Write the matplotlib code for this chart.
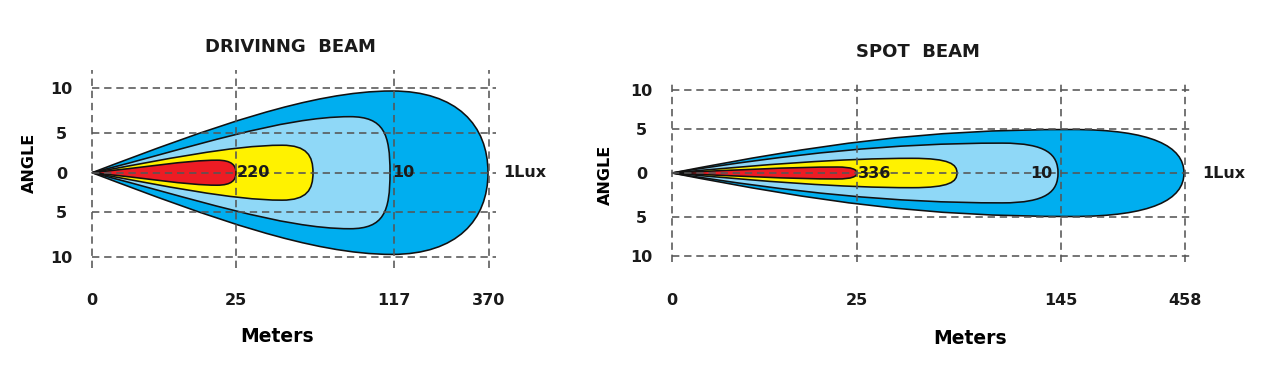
import matplotlib
matplotlib.use("Agg")
import matplotlib.pyplot as plt
from matplotlib.path import Path
from matplotlib.patches import PathPatch

# ---------------- data ----------------
titles = ["DRIVINNG  BEAM", "SPOT  BEAM"]
x_label = "Meters"
y_label = "ANGLE"
y_tick_labels = ["10", "5", "0", "5", "10"]

# driving beam
drive_x_ticks = ["0", "25", "117", "370"]
drive_x_tick_pos = [0, 143.5, 301.5, 397]
drive_y_tick_pos = [10, 4.65, 0, -4.65, -10]
drive_lux_labels = ["1Lux", "10", "220", ""]
drive_reach = [396, 298, 221, 144]
drive_peak_x = [300, 258, 190, 125]
drive_half_angle = [9.67, 6.63, 3.25, 1.48]
drive_c1 = [(120, 5.4), (100, 3.0), (70, 1.5), (50, 0.6)]
drive_c2_x = [220, 190, 140, 95]
drive_tail = [(365, 5.6), (292, 4.6), (215, 2.0), (140, 0.85)]

# spot beam
spot_x_ticks = ["0", "25", "145", "458"]
spot_x_tick_pos = [0, 184.5, 389, 513]
spot_y_tick_pos = [10, 5.25, 0, -5.25, -10]
spot_lux_labels = ["1Lux", "10", "336", ""]
spot_reach = [512, 386, 285, 185]
spot_peak_x = [400, 330, 240, 165]
spot_half_angle = [5.24, 3.6, 1.77, 0.72]
spot_c1 = [(150, 3.5), (120, 2.3), (90, 1.0), (60, 0.35)]
spot_c2_x = [250, 220, 170, 120]
spot_tail = [(480, 3.2), (375, 2.2), (278, 1.05), (180, 0.42)]

zone_colors = ["#00AEEF", "#8FD8F7", "#FFF200", "#ED1C24"]

# ---------------- figure ----------------
W, H = 1263, 378
fig = plt.figure(figsize=(W / 100, H / 100), dpi=100)
FONT = "DejaVu Sans"


def lobe_path(xe, xm, ym, c1, c2x, tail):
    verts = [(0, 0), c1, (c2x, ym), (xm, ym),
             (tail[0], ym), (xe, tail[1]), (xe, 0),
             (xe, -tail[1]), (tail[0], -ym), (xm, -ym),
             (c2x, -ym), (c1[0], -c1[1]), (0, 0), (0, 0)]
    codes = [Path.MOVETO] + [Path.CURVE4] * 12 + [Path.CLOSEPOLY]
    return Path(verts, codes)


def panel(left_px, right_px, origin_px, zero_y_px, px_per_deg,
          xticks, xtick_pos, ytick_pos, reach, peak_x, half_angle, c1, c2x, tail,
          lux_labels, label_specs, vgrid_px, hgrid_right):
    top_px, bot_px = 68, 270
    ax = fig.add_axes([left_px / W, 1 - bot_px / H,
                       (right_px - left_px) / W, (bot_px - top_px) / H])
    ax.set_xlim(left_px - origin_px, right_px - origin_px)
    ax.set_ylim(-(bot_px - zero_y_px) / px_per_deg, (zero_y_px - top_px) / px_per_deg)
    for s in ax.spines.values():
        s.set_visible(False)

    for i in range(len(reach)):
        p = lobe_path(reach[i], peak_x[i], half_angle[i], c1[i], c2x[i], tail[i])
        ax.add_patch(PathPatch(p, facecolor=zone_colors[i], edgecolor="#111111",
                               lw=1.15, zorder=2 + i))

    gcol = "#555555"
    ls = (0, (4.6, 3.0))
    y_top = (zero_y_px - vgrid_px[0]) / px_per_deg
    y_bot = -(vgrid_px[1] - zero_y_px) / px_per_deg
    for xp in xtick_pos:
        ax.plot([xp, xp], [y_bot, y_top], color=gcol, lw=1.15, ls=ls, zorder=10)
    for yp in ytick_pos:
        ax.plot([0, hgrid_right], [yp, yp], color=gcol, lw=1.15, ls=ls, zorder=10)

    ax.set_xticks(xtick_pos, xticks)
    ax.set_yticks(ytick_pos, y_tick_labels)
    ax.tick_params(axis="x", length=0, pad=16.5, labelsize=11.5)
    ax.tick_params(axis="y", length=0, pad=16, labelsize=11.5)
    for t in ax.get_xticklabels() + ax.get_yticklabels():
        t.set_fontweight("bold")
        t.set_fontfamily(FONT)
        t.set_color("#1a1a1a")
    for t in ax.get_yticklabels():
        t.set_horizontalalignment("center")

    for txt, (xp, ha) in zip(lux_labels, label_specs):
        if txt:
            ax.text(xp, 0, txt, ha=ha, va="center", fontsize=11.5, fontweight="bold",
                    family=FONT, color="#1a1a1a", zorder=12)
    return ax


panel(84, 500, 92, 172.7, 8.45,
      drive_x_ticks, drive_x_tick_pos, drive_y_tick_pos,
      drive_reach, drive_peak_x, drive_half_angle, drive_c1, drive_c2_x, drive_tail,
      drive_lux_labels, [(411, "left"), (300, "left"), (145, "left"), (0, "left")],
      (70, 268), 404)

panel(664, 1200, 672, 173, 8.3,
      spot_x_ticks, spot_x_tick_pos, spot_y_tick_pos,
      spot_reach, spot_peak_x, spot_half_angle, spot_c1, spot_c2_x, spot_tail,
      spot_lux_labels, [(530, "left"), (380, "right"), (186, "left"), (0, "left")],
      (82.7, 261.7), 521)

# titles and axis labels
fig.text(290 / W, 1 - 47 / H, titles[0], ha="center", va="center",
         fontsize=13, fontweight="bold", family=FONT, color="#1a1a1a")
fig.text(918 / W, 1 - 52 / H, titles[1], ha="center", va="center",
         fontsize=13, fontweight="bold", family=FONT, color="#1a1a1a")
fig.text(277 / W, 1 - 337 / H, x_label, ha="center", va="center",
         fontsize=13.5, fontweight="bold", family=FONT, color="#000000")
fig.text(970 / W, 1 - 338 / H, x_label, ha="center", va="center",
         fontsize=13.5, fontweight="bold", family=FONT, color="#000000")
fig.text(29 / W, 1 - 162.5 / H, y_label, ha="center", va="center", rotation=90,
         fontsize=11.5, fontweight="bold", family=FONT, color="#000000")
fig.text(605 / W, 1 - 175 / H, y_label, ha="center", va="center", rotation=90,
         fontsize=11.5, fontweight="bold", family=FONT, color="#000000")

fig.savefig("out.png", dpi=100, facecolor="white")
